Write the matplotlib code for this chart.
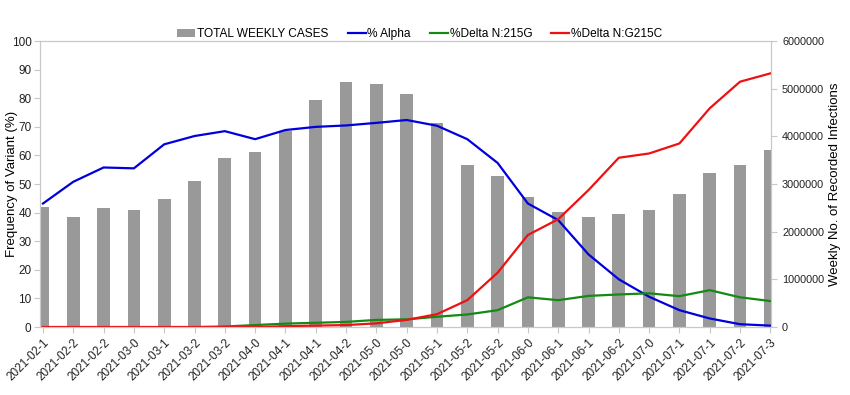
import matplotlib
matplotlib.use("Agg")
from matplotlib import pyplot as plt
from matplotlib.ticker import FuncFormatter

plt.rcParams['font.family'] = ['Liberation Sans', 'DejaVu Sans']

weeks = ["2021-02-1", "2021-02-2", "2021-02-2", "2021-03-0", "2021-03-1", "2021-03-2",
         "2021-03-2", "2021-04-0", "2021-04-1", "2021-04-1", "2021-04-2", "2021-05-0",
         "2021-05-0", "2021-05-1", "2021-05-2", "2021-05-2", "2021-06-0", "2021-06-1",
         "2021-06-1", "2021-06-2", "2021-07-0", "2021-07-1", "2021-07-1", "2021-07-2",
         "2021-07-3"]

# weekly cases (right axis)
cases = [2520000, 2300000, 2490000, 2450000, 2690000, 3060000, 3540000, 3680000,
         4120000, 4760000, 5150000, 5100000, 4900000, 4290000, 3400000, 3170000,
         2720000, 2420000, 2310000, 2370000, 2450000, 2800000, 3240000, 3400000,
         3710000]

# variant frequencies in % (left axis)
alpha = [43.2, 50.8, 55.8, 55.5, 63.9, 66.8, 68.5, 65.7, 68.9, 70.0, 70.5, 71.4,
         72.4, 70.4, 65.7, 57.4, 43.2, 37.4, 25.4, 16.7, 10.6, 5.9, 3.0, 1.0, 0.5]
delta_215g = [0, 0, 0, 0, 0, 0, 0.2, 0.7, 1.2, 1.5, 1.8, 2.5, 2.7, 3.6, 4.4, 5.9,
              10.4, 9.4, 10.9, 11.4, 11.8, 10.8, 12.9, 10.4, 9.1]
delta_g215c = [0, 0, 0, 0, 0, 0, 0, 0, 0.3, 0.5, 0.7, 1.3, 2.5, 4.5, 9.4, 19.0,
               32.2, 37.7, 47.9, 59.2, 60.7, 64.2, 76.5, 85.8, 88.7]

x = list(range(len(weeks)))
edge = "#c8c8c8"

fig = plt.figure(figsize=(8.5, 3.95), dpi=100)
ax = fig.add_axes([0.047, 0.172, 0.86, 0.724])
ax2 = ax.twinx()

# bars on right axis, drawn behind the lines
ax2.bar(x, cases, width=0.42, color="#999999", label="TOTAL WEEKLY CASES", zorder=1)
ax2.set_ylim(0, 6000000)
ax2.set_yticks(range(0, 6000001, 1000000))
ax2.yaxis.set_major_formatter(FuncFormatter(lambda v, p: "%d" % v))
ax2.set_ylabel("Weekly No. of Recorded Infections", fontsize=9.5)
ax2.yaxis.set_label_coords(1.08, 0.5)

ax.set_zorder(ax2.get_zorder() + 1)
ax.patch.set_visible(False)
l1, = ax.plot(x, alpha, color="#0000dd", lw=1.6, label="% Alpha")
l2, = ax.plot(x, delta_215g, color="#138a13", lw=1.6, label="%Delta N:215G")
l3, = ax.plot(x, delta_g215c, color="#ee1111", lw=1.6, label="%Delta N:G215C")
ax.set_ylim(0, 100)
ax.set_yticks(range(0, 101, 10))
ax.set_ylabel("Frequency of Variant (%)", fontsize=9.5)
ax.yaxis.set_label_coords(-0.030, 0.5)
ax.set_xlim(-0.1, 24.02)
ax.set_xticks(x)
ax.set_xticklabels(weeks, rotation=45, ha="right", rotation_mode="anchor")

for a in (ax, ax2):
    for s in a.spines.values():
        s.set_color(edge)
    a.tick_params(colors="#222222", labelsize=8.5, length=4, color=edge, pad=2)
ax.tick_params(axis="x", labelsize=8.5, pad=3)
ax2.tick_params(axis="y", pad=4, labelsize=7.8)

h2, lab2 = ax2.get_legend_handles_labels()
fig.legend(h2 + [l1, l2, l3], lab2 + ["% Alpha", "%Delta N:215G", "%Delta N:G215C"],
           loc="center", bbox_to_anchor=(0.494, 0.913), ncol=4, frameon=False,
           fontsize=8.6, handlelength=1.5, handletextpad=0.15, columnspacing=1.6)

fig.savefig("out.png", dpi=100)
